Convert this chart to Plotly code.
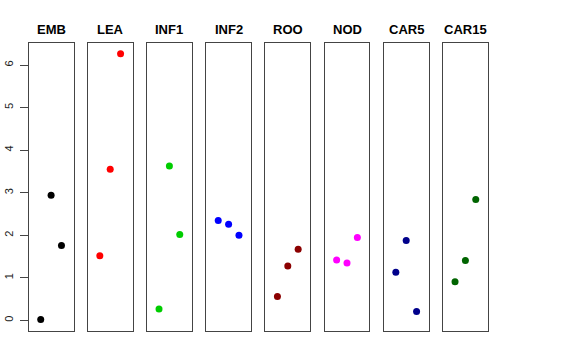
import plotly.graph_objects as go

W, H = 576, 360

tissues = ["EMB", "LEA", "INF1", "INF2", "ROO", "NOD", "CAR5", "CAR15"]
colors = ["#000000", "#FF0000", "#00CD00", "#0000FF", "#8B0000", "#FF00FF", "#00008B", "#006400"]
x_pos = [1, 2, 3]
emb = [0.02, 2.94, 1.76]
lea = [1.52, 3.55, 6.27]
inf1 = [0.27, 3.63, 2.02]
inf2 = [2.35, 2.26, 2.00]
roo = [0.56, 1.28, 1.67]
nod = [1.42, 1.35, 1.95]
car5 = [1.13, 1.88, 0.21]
car15 = [0.91, 1.41, 2.84]
series = [emb, lea, inf1, inf2, roo, nod, car5, car15]
y_ticks = [0, 1, 2, 3, 4, 5, 6]

panel_left = [28.7, 87.8, 147.0, 206.2, 265.4, 324.6, 383.8, 443.0]
panel_w = 44.8
y_top, y_bot = 43, 331

fig = go.Figure()
for i, (name, col, vals) in enumerate(zip(tissues, colors, series)):
    n = "" if i == 0 else str(i + 1)
    fig.add_trace(go.Scatter(x=x_pos, y=vals, mode="markers",
                             marker=dict(color=col, size=7, line=dict(width=0)),
                             xaxis="x" + n, yaxis="y" + n, showlegend=False))
    x0 = panel_left[i] / W
    x1 = (panel_left[i] + panel_w) / W
    fig.layout["xaxis" + n] = dict(domain=[x0, x1], range=[-0.16, 4.16],
                                   showgrid=False, zeroline=False, showticklabels=False,
                                   ticks="", showline=True, mirror=True, automargin=False,
                                   linecolor="#444", linewidth=1, anchor="y" + n)
    yax = dict(domain=[(H - y_bot) / H, (H - y_top) / H], range=[-0.25, 6.52],
               showgrid=False, zeroline=False, showline=True, mirror=True, automargin=False,
               linecolor="#444", linewidth=1, anchor="x" + n)
    if i == 0:
        yax.update(tickvals=y_ticks, ticktext=[str(v) for v in y_ticks], ticks="outside",
                   ticklen=8, tickcolor="#444", tickangle=-90, ticklabelstandoff=2,
                   tickfont=dict(family="Liberation Sans, Arial", size=11, color="#222"))
    else:
        yax.update(showticklabels=False, ticks="")
    fig.layout["yaxis" + n] = yax
    fig.add_annotation(text="<b>" + name + "</b>", x=(x0 + x1) / 2, y=(H - 29.5) / H,
                       xref="paper", yref="paper", showarrow=False,
                       xanchor="center", yanchor="middle",
                       font=dict(family="Liberation Sans, Arial", size=13, color="#000"))

fig.update_layout(width=W, height=H, margin=dict(l=0, r=0, t=0, b=0, autoexpand=False),
                  paper_bgcolor="white", plot_bgcolor="white")
fig.write_html("out.html", config={"displayModeBar": False},
               post_script="document.body.style.margin='0';document.body.style.padding='0';")
